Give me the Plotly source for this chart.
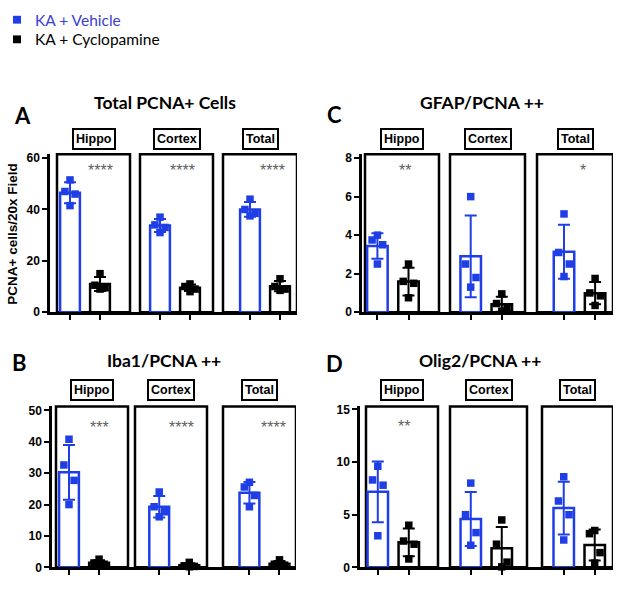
import plotly.graph_objects as go
import numpy as np

# ---------------- data ----------------
regions = ["Hippo", "Cortex", "Total"]
groups = ["KA + Vehicle", "KA + Cyclopamine"]

panel_keys = ["A", "B", "C", "D"]
panel_titles = ["Total PCNA+ Cells", "Iba1/PCNA ++", "GFAP/PCNA ++", "Olig2/PCNA ++"]

# individual animals, per region [Hippo, Cortex, Total]
A_vehicle = [[51.5, 47.0, 46.0, 41.5], [37.0, 34.0, 33.0, 31.0], [44.0, 40.0, 38.5, 37.5]]
A_cyclo = [[15.0, 10.5, 9.5, 9.0], [11.0, 10.0, 9.0, 8.0], [13.0, 10.0, 9.0, 8.5]]

B_vehicle = [[40.8, 32.6, 27.7, 20.0], [24.0, 19.3, 17.7, 16.1], [27.1, 25.6, 22.9, 19.3]]
B_cyclo = [[2.6, 1.4, 1.0, 0.8], [1.6, 0.5, 0.3, 0.2], [2.4, 1.0, 0.7, 0.4]]

C_vehicle = [[4.0, 3.75, 3.5, 2.5], [6.0, 2.5, 1.8, 1.3], [5.1, 3.1, 2.5, 1.85]]
C_cyclo = [[2.5, 1.6, 1.5, 0.75], [0.95, 0.45, 0.2, 0.05], [1.75, 1.0, 0.85, 0.35]]

D_vehicle = [[9.6, 8.3, 7.8, 3.0], [8.0, 5.0, 3.3, 2.1], [8.6, 6.3, 5.0, 2.6]]
D_cyclo = [[4.0, 2.5, 2.2, 0.8], [4.5, 2.2, 0.5, 0.05], [3.5, 3.2, 1.4, 0.4]]

A_stars = ["****", "****", "****"]
B_stars = ["***", "****", "****"]
C_stars = ["**", "", "*"]
D_stars = ["**", "", ""]

A_yticks = [0, 20, 40, 60]
B_yticks = [0, 10, 20, 30, 40, 50]
C_yticks = [0, 2, 4, 6, 8]
D_yticks = [0, 5, 10, 15]

y_title = "PCNA+ cells/20x Field"

panel_data = {
    "A": (A_vehicle, A_cyclo, A_stars, A_yticks),
    "B": (B_vehicle, B_cyclo, B_stars, B_yticks),
    "C": (C_vehicle, C_cyclo, C_stars, C_yticks),
    "D": (D_vehicle, D_cyclo, D_stars, D_yticks),
}

# ---------------- layout geometry (pixels) ----------------
W, H = 629, 594
BLUE = "#1f3ee6"
LEG_BLUE = "#3a40d0"
colors = [BLUE, "#000000"]

geom = {
    "A": dict(ax="", x0=50, x1=297, u0=70.0, upx=30.0, ytop=153, ybot=314, ref=(60, 157),
              boxes=[(57, 130), (140, 213), (223, 297)], title=(164.5, 100), letter=(22, 114),
              label_y=137.5, star_y=170, star_dx=[1.0, 3.75, 6.75]),
    "B": dict(ax="2", x0=52, x1=296, u0=69.0, upx=30.07, ytop=410, ybot=574, ref=(50, 414),
              boxes=[(56, 128), (135, 207), (223, 296)], title=(164, 363), letter=(19, 365),
              label_y=393, star_y=431, star_dx=[1.0, 3.75, 6.8]),
    "C": dict(ax="3", x0=362, x1=613, u0=377.4, upx=31.1, ytop=153, ybot=314, ref=(8, 157),
              boxes=[(365, 439), (450, 525), (537, 613)], title=(482, 100), letter=(334, 113),
              label_y=137.5, star_y=170, star_dx=[0.9, 3.75, 6.6]),
    "D": dict(ax="4", x0=360, x1=613, u0=377.8, upx=30.99, ytop=410, ybot=574, ref=(15, 413),
              boxes=[(366, 438), (450, 527), (542, 613)], title=(480, 363), letter=(334, 366),
              label_y=393, star_y=430, star_dx=[0.85, 3.75, 6.8]),
}

def py(p):
    return 1 - p / H

def pxx(p):
    return p / W

jitter = [0.0, -0.17, 0.17, 0.0]

fig = go.Figure()
shapes = []
annotations = []

for key, title in zip(panel_keys, panel_titles):
    g = geom[key]
    veh, cyc, stars, yticks = panel_data[key]
    xa = "x" + g["ax"]
    ya = "y" + g["ax"]
    for gi, (pts_all, col) in enumerate(zip([veh, cyc], colors)):
        xs = [3 * ri + gi for ri in range(len(regions))]
        means = [float(np.mean(p)) for p in pts_all]
        sds = [float(np.std(p, ddof=1)) for p in pts_all]
        fig.add_trace(go.Bar(
            x=xs, y=means, width=0.66, xaxis=xa, yaxis=ya,
            marker=dict(color="white", line=dict(color=col, width=2.5)),
            error_y=dict(type="data", array=sds, visible=True, color=col, thickness=2, width=6),
            showlegend=False, cliponaxis=False, name=groups[gi]))
        px_, py_ = [], []
        for ri, pts in enumerate(pts_all):
            for k, v in enumerate(sorted(pts, reverse=True)):
                px_.append(3 * ri + gi + jitter[k % len(jitter)])
                py_.append(v)
        fig.add_trace(go.Scatter(
            x=px_, y=py_, mode="markers", xaxis=xa, yaxis=ya,
            marker=dict(symbol="square", size=7.5, color=col),
            showlegend=False, cliponaxis=False, name=groups[gi]))

    # axes
    xr = [(g["x0"] - g["u0"]) / g["upx"], (g["x1"] - g["u0"]) / g["upx"]]
    val, vpx = g["ref"]
    ytopval = val * (g["ybot"] - g["ytop"]) / (g["ybot"] - vpx)
    xkey = "xaxis" + g["ax"]
    ykey = "yaxis" + g["ax"]
    fig.update_layout(**{
        xkey: dict(domain=[pxx(g["x0"]), pxx(g["x1"])], range=xr, anchor=ya,
                   showline=True, linecolor="black", linewidth=2.5, ticks="outside",
                   ticklen=5, tickwidth=1.5, tickcolor="black",
                   tickvals=[3 * ri + gi for ri in range(3) for gi in range(2)],
                   ticktext=["" for _ in range(6)], showgrid=False, zeroline=False, fixedrange=True),
        ykey: dict(domain=[py(g["ybot"]), py(g["ytop"])], range=[0, ytopval], anchor=xa,
                   showline=True, linecolor="black", linewidth=2.5, ticks="outside",
                   ticklen=5, tickwidth=2, tickcolor="black", tickvals=yticks,
                   tickfont=dict(family="Arial", size=12, color="black", weight="bold"),
                   showgrid=False, zeroline=False, fixedrange=True),
    })

    # facet boxes and labels
    for ri, (bx0, bx1) in enumerate(g["boxes"]):
        d0 = (bx0 - g["u0"]) / g["upx"]
        d1 = (bx1 - g["u0"]) / g["upx"]
        shapes.append(dict(type="rect", xref=xa, yref="paper", x0=d0, x1=d1,
                           y0=py(g["ybot"]), y1=py(g["ytop"]),
                           line=dict(color="black", width=2.5), fillcolor="rgba(0,0,0,0)", layer="below"))
        annotations.append(dict(x=(d0 + d1) / 2, xref=xa, y=py(g["label_y"]), yref="paper",
                                text="<b>" + regions[ri] + "</b>", showarrow=False,
                                font=dict(family="Arial", size=12.5, color="black"),
                                bordercolor="black", borderwidth=2, borderpad=2, bgcolor="white",
                                xanchor="center", yanchor="middle"))
        if stars[ri]:
            annotations.append(dict(x=g["star_dx"][ri], xref=xa, y=py(g["star_y"]), yref="paper",
                                    text=stars[ri], showarrow=False,
                                    font=dict(family="Arial", size=16, color="#606060"),
                                    xanchor="center", yanchor="middle"))
    # title and letter
    annotations.append(dict(x=pxx(g["title"][0]), y=py(g["title"][1]), xref="paper", yref="paper",
                            text="<b>" + title + "</b>", showarrow=False,
                            font=dict(family="Lato", size=17.5, color="black"),
                            xanchor="center", yanchor="middle"))
    annotations.append(dict(x=pxx(g["letter"][0]), y=py(g["letter"][1]), xref="paper", yref="paper",
                            text="<b>" + key + "</b>", showarrow=False,
                            font=dict(family="Lato", size=22, color="black"),
                            xanchor="center", yanchor="middle"))

# y-axis title of panel A
annotations.append(dict(x=pxx(13), y=py(235), xref="paper", yref="paper", text="<b>" + y_title + "</b>",
                        textangle=-90, showarrow=False,
                        font=dict(family="Arial", size=13.5, color="black"),
                        xanchor="center", yanchor="middle"))

# legend (drawn manually)
leg_y = [16, 36]
leg_col = [LEG_BLUE, "#000000"]
for gi, name in enumerate(groups):
    shapes.append(dict(type="rect", xref="paper", yref="paper",
                       x0=pxx(13), x1=pxx(21), y0=py(leg_y[gi] + 4), y1=py(leg_y[gi] - 4),
                       fillcolor=BLUE if gi == 0 else "black", line=dict(width=0)))
    annotations.append(dict(x=pxx(33), y=py(leg_y[gi]), xref="paper", yref="paper", text=name,
                            showarrow=False, font=dict(family="Lato", size=15.5, color=leg_col[gi]),
                            xanchor="left", yanchor="middle"))

fig.update_layout(
    width=W, height=H, margin=dict(l=0, r=0, t=0, b=0),
    paper_bgcolor="white", plot_bgcolor="white",
    barmode="overlay", showlegend=False,
    shapes=shapes, annotations=annotations,
)

fig.write_html("out.html", config={"displayModeBar": False},
               post_script="document.body.style.margin='0';document.body.style.padding='0';")
